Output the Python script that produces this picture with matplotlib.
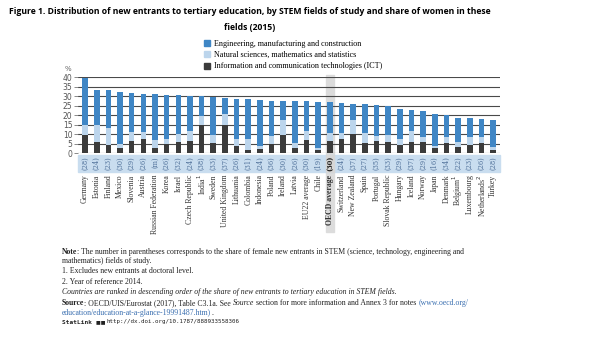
import matplotlib.pyplot as plt
import numpy as np
from matplotlib.patches import Rectangle, Patch
from matplotlib import font_manager

countries = ['Germany', 'Estonia', 'Finland', 'Mexico', 'Slovenia', 'Austria',
             'Russian Federation', 'Korea', 'Israel', 'Czech Republic', 'India$^1$',
             'Sweden', 'United Kingdom', 'Lithuania', 'Colombia', 'Indonesia',
             'Poland', 'Ireland', 'Latvia', 'EU22 average', 'Chile', 'OECD average',
             'Switzerland', 'New Zealand', 'Spain', 'Portugal', 'Slovak Republic',
             'Hungary', 'Iceland', 'Norway', 'Japan', 'Denmark', 'Belgium$^1$',
             'Luxembourg', 'Netherlands$^2$', 'Turkey']
women = ['28', '24', '23', '30', '29', '26', 'm', '26', '32', '24', '38', '33', '37',
         '26', '31', '24', '36', '30', '26', '30', '19', '30', '24', '37', '27', '35',
         '33', '29', '37', '29', '16', '34', '22', '23', '26', '28']
total = [39.6, 33.4, 33.0, 32.2, 31.7, 31.3, 31.0, 30.8, 30.5, 30.0, 29.9, 29.3,
         28.8, 28.6, 28.3, 28.0, 27.7, 27.4, 27.3, 27.2, 26.9, 26.7, 26.3, 26.0,
         25.8, 25.2, 25.1, 23.3, 22.5, 22.2, 20.7, 20.2, 18.8, 18.4, 18.0, 17.5]
ict = [9.6, 6.1, 4.4, 3.1, 6.6, 7.3, 2.6, 4.9, 6.1, 6.4, 14.8, 5.4, 14.8, 3.9, 1.9,
       2.2, 5.0, 9.4, 3.0, 6.8, 1.8, 6.4, 7.6, 10.4, 5.5, 6.6, 6.2, 4.5, 6.2, 6.0,
       2.6, 5.3, 3.5, 4.4, 5.6, 1.8]
science = [5.5, 8.7, 8.7, 1.6, 4.4, 4.0, 4.4, 2.9, 4.3, 5.3, 4.8, 4.0, 6.0, 3.6, 5.6,
           1.6, 4.0, 8.3, 2.5, 4.8, 1.2, 4.3, 3.1, 7.3, 5.2, 2.4, 3.6, 3.0, 5.8, 2.8,
           1.3, 3.5, 2.6, 4.4, 3.2, 1.4]
eng = [t - a - b for t, a, b in zip(total, ict, science)]

c_eng = '#3f86c5'
c_sci = '#bcd5ec'
c_ict = '#3b3b3b'

# a narrow face for the title if one is installed
names = {f.name for f in font_manager.fontManager.ttflist}
title_font = 'Liberation Sans Narrow' if 'Liberation Sans Narrow' in names else 'Open Sans'

fig = plt.figure(figsize=(5.96, 3.44), dpi=100)
ax = fig.add_axes([0.131, 0.554, 0.708, 0.222])
x = np.arange(len(countries))
oecd = countries.index('OECD average')

ax.bar(x, ict, 0.48, color=c_ict, zorder=3)
ax.bar(x, science, 0.48, bottom=ict, color=c_sci, zorder=3)
ax.bar(x, eng, 0.48, bottom=np.array(ict) + np.array(science), color=c_eng, zorder=3)

ax.set_xlim(-0.6, 35.6)
ax.set_ylim(0, 40)
ax.set_yticks(range(0, 45, 5))
ax.yaxis.grid(True, color='#4a4a4a', lw=0.8, zorder=1)
ax.tick_params(axis='y', length=3, width=0.6, color='#777', pad=1, labelsize=5.5,
               labelcolor='#555')
ax.set_xticks([])
for s in ax.spines.values():
    s.set_visible(False)
ax.text(-0.015, 1.08, '%', transform=ax.transAxes, fontsize=5, color='#666', ha='right')

# grey highlight for the OECD average column and the label band
ax.add_patch(Rectangle((oecd - 0.36, -41), 0.72, 82, color='#dcdcdc', zorder=0,
                       clip_on=False))
ax.add_patch(Rectangle((-0.6, -9.8), 36.2, 9.0, color='#c9ddef', zorder=0,
                       clip_on=False))
ax.add_patch(Rectangle((oecd - 0.36, -9.8), 0.72, 9.0, color='#d6d6d6', zorder=0.5,
                       clip_on=False))

for i in x:
    bold = 'bold' if i == oecd else 'normal'
    ax.text(i, -1.3, '(' + women[i] + ')', rotation=90, ha='center', va='top',
            fontsize=4.8, color='#4f7099' if i != oecd else '#222', family='DejaVu Serif',
            fontweight=bold, clip_on=False)
    ax.text(i, -11.0, countries[i], rotation=90, ha='center', va='top', fontsize=5.6,
            color='#333', family='Liberation Serif', fontweight=bold, clip_on=False)

# legend
handles = [Patch(color=c_eng, label='Engineering, manufacturing and construction'),
           Patch(color=c_sci, label='Natural sciences, mathematics and statistics'),
           Patch(color=c_ict, label='Information and communication technologies (ICT)')]
fig.legend(handles=handles, loc='upper left', bbox_to_anchor=(0.342, 0.885),
           frameon=False, prop={'family': 'Liberation Serif', 'size': 5.9},
           handlelength=0.75, handleheight=0.75, handletextpad=0.5, labelspacing=0.42,
           borderaxespad=0, borderpad=0)

fig.canvas.draw()
rend = fig.canvas.get_renderer()

# title, sized so the first line spans the same width as the reference
t1 = fig.text(250 / 596, 1 - 12 / 344, 'Figure 1. Distribution of new entrants to tertiary '
              'education, by STEM fields of study and share of women in these',
              ha='center', va='center', fontsize=7.3, fontweight='bold', family=title_font)
fs = 7.3 * 484 / t1.get_window_extent(rend).width
t1.set_fontsize(fs)
fig.text(250 / 596, 1 - 28 / 344, 'fields (2015)', ha='center', va='center',
         fontsize=fs, fontweight='bold', family=title_font)


# notes
def line(y, pieces, x0=62):
    xp = x0
    for txt, kw in pieces:
        style = {'family': 'Liberation Serif', 'fontsize': 5.6, 'color': '#222'}
        style.update(kw)
        t = fig.text(xp / 596, 1 - y / 344, txt, va='center', ha='left', **style)
        xp += t.get_window_extent(rend).width


line(252, [('Note', {'fontweight': 'bold'}),
           (': The number in parentheses corresponds to the share of female new entrants '
            'in STEM (science, technology, engineering and', {})])
line(261, [('mathematics) fields of study.', {})])
line(271, [('1. Excludes new entrants at doctoral level.', {})])
line(282, [('2. Year of reference 2014.', {})])
line(292, [('Countries are ranked in descending order of the share of new entrants to '
            'tertiary education in STEM fields.', {'style': 'italic'})])
line(303, [('Source', {'fontweight': 'bold'}),
           (': OECD/UIS/Eurostat (2017), Table C3.1a. See ', {}),
           ('Source', {'style': 'italic'}),
           (' section for more information and Annex 3 for notes ', {}),
           ('(www.oecd.org/', {'color': '#3a6fb0'})])
line(313, [('education/education-at-a-glance-19991487.htm)', {'color': '#3a6fb0'}),
           ('.', {})])
line(322, [('StatLink ', {'family': 'DejaVu Sans Mono', 'fontweight': 'bold', 'fontsize': 4.4}),
           ('\u25a0\u25a0 ', {'family': 'DejaVu Sans', 'fontsize': 3.6}),
           ('http://dx.doi.org/10.1787/888933558306', {'family': 'DejaVu Sans Mono',
                                                        'fontsize': 4.2})])

fig.savefig('out.png', dpi=100)
